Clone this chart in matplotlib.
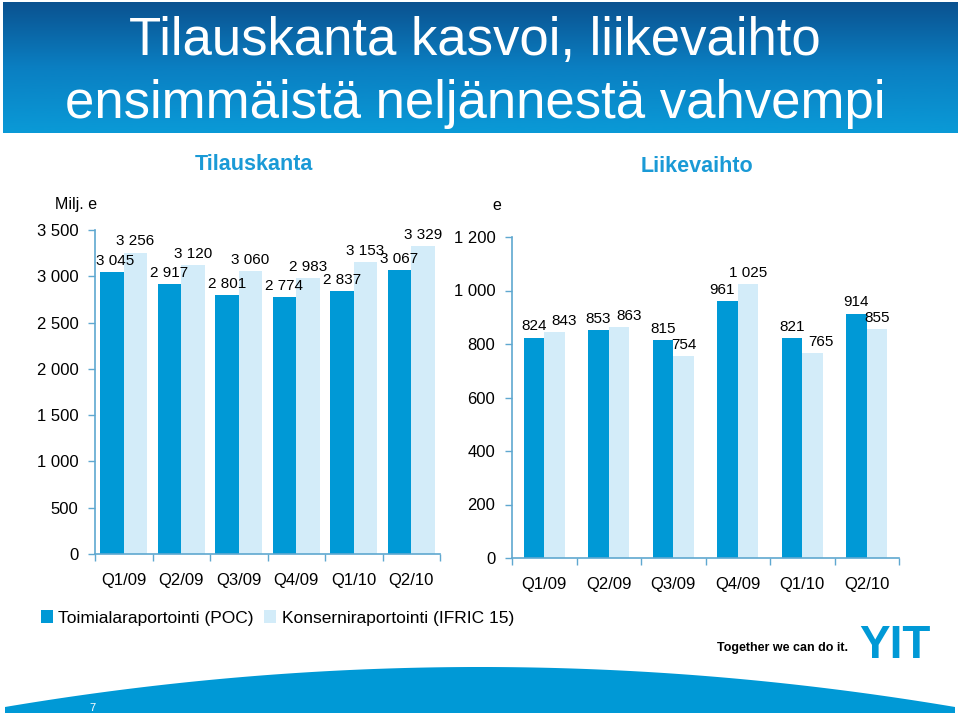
import numpy as np
import matplotlib
matplotlib.use("Agg")
import matplotlib.pyplot as plt
from matplotlib import font_manager
from matplotlib.patches import Polygon
from matplotlib.colors import LinearSegmentedColormap
from matplotlib.ticker import FuncFormatter, FixedLocator

quarters = ["Q1/09", "Q2/09", "Q3/09", "Q4/09", "Q1/10", "Q2/10"]
order_poc = [3045, 2917, 2801, 2774, 2837, 3067]
order_ifric = [3256, 3120, 3060, 2983, 3153, 3329]
rev_poc = [824, 853, 815, 961, 821, 914]
rev_ifric = [843, 863, 754, 1025, 765, 855]
series_names = ["Toimialaraportointi (POC)", "Konserniraportointi (IFRIC 15)"]

DARK = "#0099d6"
LIGHT = "#d3ecf9"
AXC = "#5fa8d0"

names = {f.name for f in font_manager.fontManager.ttflist}
NARROW = "Liberation Sans Narrow" if "Liberation Sans Narrow" in names else "Liberation Sans"
plt.rcParams["font.family"] = ["Liberation Sans", "DejaVu Sans"]

W, H = 960, 716
fig = plt.figure(figsize=(W / 100, H / 100), dpi=100)


def fx(px):
    return px / W


def fy(py):
    return 1 - py / H


# title banner with gradient
bax = fig.add_axes([fx(3), fy(133), fx(954), 131 / H])
grad = np.linspace(0, 1, 256).reshape(-1, 1)
cmap = LinearSegmentedColormap.from_list("b", ["#0b5290", "#0a7fc2", "#0a9ad7"])
bax.imshow(grad, aspect="auto", cmap=cmap, extent=[0, 1, 0, 1], origin="upper")
bax.axis("off")
fig.text(fx(475), fy(55), "Tilauskanta kasvoi, liikevaihto", color="white",
         fontsize=38, family=[NARROW, "DejaVu Sans"], ha="center", va="baseline")
fig.text(fx(475), fy(118), "ensimmäistä neljännestä vahvempi", color="white",
         fontsize=38, family=[NARROW, "DejaVu Sans"], ha="center", va="baseline")

fig.text(fx(254), fy(165), "Tilauskanta", color="#1a9ad6", fontsize=15.5,
         fontweight="bold", family=[NARROW, "DejaVu Sans"], ha="center", va="center")
fig.text(fx(697), fy(167), "Liikevaihto", color="#1a9ad6", fontsize=15.5,
         fontweight="bold", family=[NARROW, "DejaVu Sans"], ha="center", va="center")


def space_fmt(v, pos):
    return f"{int(v):,}".replace(",", " ")


def draw(ax, a, b, ymax, step, width, offsets):
    x = np.arange(len(quarters))
    b1 = ax.bar(x - width / 2, a, width, color=DARK, zorder=2)
    b2 = ax.bar(x + width / 2, b, width, color=LIGHT, zorder=1)
    for i, r in enumerate(b1):
        ax.annotate(space_fmt(a[i], 0), (r.get_x() + r.get_width() / 2, r.get_height()),
                    xytext=(offsets[0][i], 3), textcoords="offset points",
                    ha="center", va="bottom", fontsize=11)
    for i, r in enumerate(b2):
        ax.annotate(space_fmt(b[i], 0), (r.get_x() + r.get_width() / 2, r.get_height()),
                    xytext=(offsets[1][i], 3), textcoords="offset points",
                    ha="center", va="bottom", fontsize=11)
    ax.set_xlim(-0.5, len(quarters) - 0.5)
    ax.set_ylim(0, ymax)
    ax.set_yticks(np.arange(0, ymax + 1, step))
    ax.yaxis.set_major_formatter(FuncFormatter(space_fmt))
    ax.set_xticks(x)
    ax.set_xticklabels(quarters)
    ax.xaxis.set_minor_locator(FixedLocator(np.arange(-0.5, len(quarters), 1)))
    ax.tick_params(axis="x", which="major", length=0, pad=14, labelsize=12)
    ax.tick_params(axis="x", which="minor", length=5, color=AXC, width=1)
    ax.tick_params(axis="y", length=5, color=AXC, width=1, pad=7, labelsize=12)
    for s in ["top", "right"]:
        ax.spines[s].set_visible(False)
    for s in ["left", "bottom"]:
        ax.spines[s].set_color(AXC)
        ax.spines[s].set_linewidth(1.2)


ax1 = fig.add_axes([fx(95), fy(554), fx(345), 324 / H])
draw(ax1, order_poc, order_ifric, 3500, 500, 0.41,
     ([2, 0, 0, 0, 0, 0], [0, 0, 0, 0, 0, 0]))
fig.text(fx(55), fy(205), "Milj. e", fontsize=11.5, va="center")

ax2 = fig.add_axes([fx(512), fy(558), fx(387), 321 / H])
draw(ax2, rev_poc, rev_ifric, 1200, 200, 0.32,
     ([0, 0, 0, -4, 0, 0], [7, 7, 0, 0, 6, 0]))
fig.text(fx(497), fy(205), "e", fontsize=11.5, va="center", ha="center")

leg = fig.legend([ax1.patches[0], ax1.patches[6]], series_names, loc="center left",
                 bbox_to_anchor=(fx(34), fy(618)), ncol=2, frameon=False,
                 fontsize=12.5, handlelength=0.7, handleheight=0.7,
                 handletextpad=0.3, columnspacing=0.6, borderaxespad=0)
for t in leg.get_texts():
    t.set_family([NARROW, "DejaVu Sans"])

# logo
fig.text(fx(848), fy(648), "Together we can do it.", fontsize=9, fontweight="bold",
         ha="right", va="center")
fig.text(fx(895), fy(646), "YIT", fontsize=33, fontweight="bold", color=DARK,
         ha="center", va="center", family=["Liberation Sans", "DejaVu Sans"])

# bottom arc
xs = np.linspace(5, 955, 200)
ys = 667 + 40 * ((xs - 480) / 475) ** 2
pts = [(fx(x), fy(y)) for x, y in zip(xs, ys)]
pts += [(fx(955), fy(713)), (fx(5), fy(713))]
fig.add_artist(Polygon(pts, closed=True, transform=fig.transFigure,
                       facecolor=DARK, edgecolor="none"))
fig.text(fx(92), fy(708), "7", color="white", fontsize=8, ha="center", va="center")

fig.savefig("out.png", dpi=100)
